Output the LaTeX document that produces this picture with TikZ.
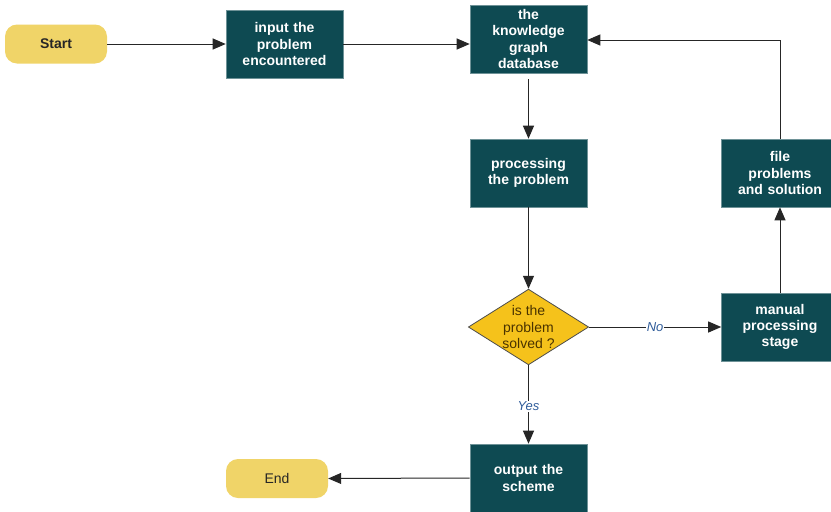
\documentclass[tikz,border=0pt]{standalone}
\usepackage{fontspec}
\setmainfont{Liberation Sans}
\usetikzlibrary{arrows.meta,shapes.geometric}
\definecolor{boxteal}{HTML}{0E4A52}
\definecolor{pillyellow}{HTML}{F0D468}
\definecolor{diagold}{HTML}{F5C21B}
\definecolor{diatext}{HTML}{4A3300}
\definecolor{labelblue}{HTML}{2F5C9A}
\tikzset{
  procbox/.style={rectangle, fill=boxteal, draw=boxteal!60!white, line width=0.6pt,
    minimum width=117pt, minimum height=68pt, inner sep=2pt, text width=112pt,
    align=center, text=white, font=\fontsize{14}{16.3}\selectfont\bfseries},
  pill/.style={rectangle, rounded corners=12pt, fill=pillyellow, draw=none,
    minimum width=102pt, minimum height=39pt, text=black!85,
    font=\fontsize{14}{16}\selectfont},
  decision/.style={diamond, aspect=1.59, fill=diagold, draw=black!70, line width=0.8pt,
    minimum width=119pt, minimum height=75pt, inner sep=0pt, align=center,
    text=diatext, font=\fontsize{14}{16.3}\selectfont},
  flow/.style={draw=black!85, line width=1pt, -{Triangle[length=13pt,width=11pt]}},
  edgelabel/.style={fill=white, inner sep=1pt, text=labelblue,
    font=\fontsize{13}{14}\selectfont\itshape}
}
\begin{document}
\begin{tikzpicture}[x=1pt, y=-1pt]
  \useasboundingbox (0,0) rectangle (831,512);
  \fill[white] (0,0) rectangle (831,512);

  % terminals
  \node[pill, font=\fontsize{14}{16}\selectfont\bfseries] (start) at (56,44) {Start};
  \node[pill] (end) at (277,478.5) {End};

  % process steps
  \node[procbox] (input) at (284.5,44) {input the\\problem\\encountered};
  \node[procbox] (kg) at (528.5,39) {the\\knowledge\\graph\\database};
  \node[procbox] (proc) at (528.5,173) {processing\\the problem};
  \node[procbox] (file) at (780,173) {file\\problems\\and solution};
  \node[procbox] (manual) at (780,327) {manual\\processing\\stage};
  \node[procbox] (output) at (528.5,478) {output the\\scheme};

  % decision
  \node[decision] (dec) at (528.5,327) {is the\\problem\\solved ?};

  % connectors
  \draw[flow] (start.east) -- (input.west);
  \draw[flow] (input.east) -- (input.east -| kg.west);
  \coordinate (kgout) at ([yshift=-6pt]kg.south);
  \draw[flow] (kgout) -- (proc.north);
  \draw[flow] (proc.south) -- (dec.north);
  \draw[flow] (dec.east) -- node[edgelabel, pos=0.5] {No} (manual.west);
  \draw[flow] (dec.south) -- node[edgelabel, pos=0.52] {Yes} (output.north);
  \draw[flow] (manual.north) -- (file.south);
  \coordinate (turn) at (file.north |- 0,40);
  \draw[flow] (file.north) -- (turn) -- (turn -| kg.east);
  \draw[flow] (output.west) -- (end.east);
\end{tikzpicture}
\end{document}
